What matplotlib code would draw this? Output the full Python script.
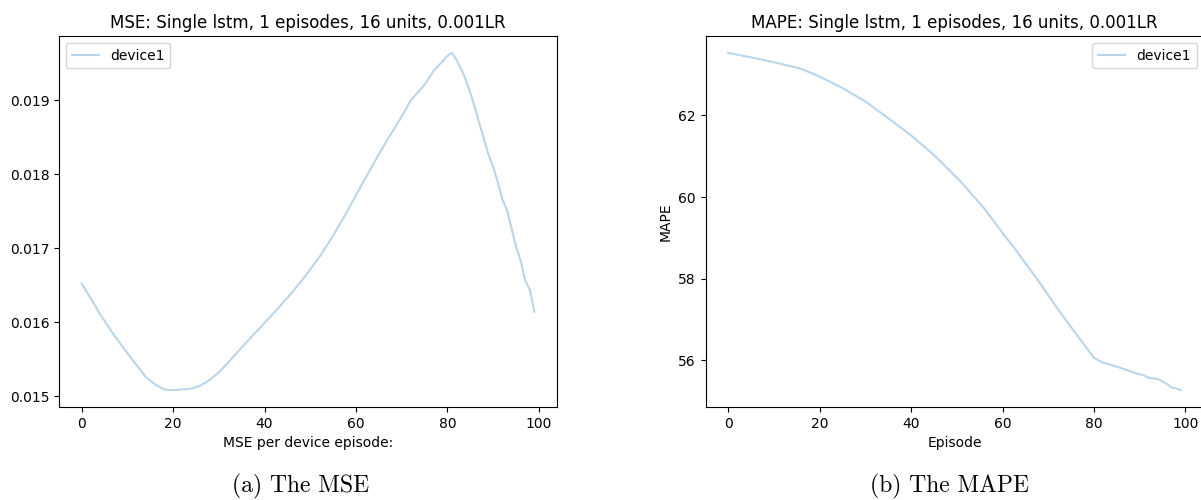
import matplotlib
matplotlib.use("Agg")
import matplotlib.pyplot as plt

# ---------------- data ----------------

mse_episode = [0, 2, 4, 7, 10, 12, 14, 16, 18, 20, 22, 24, 26, 28, 30, 32, 34, 37, 40,
               43, 46, 49, 52, 55, 58, 61, 64, 67, 70, 72, 75, 77, 79, 80, 81, 82, 83,
               84, 85, 86, 87, 88, 89, 90, 91, 92, 93, 94, 95, 96, 97, 98, 99]
mse_values = [0.01652, 0.01632, 0.01611, 0.01583, 0.01558, 0.01542, 0.01526, 0.01516,
              0.01509, 0.01508, 0.01509, 0.01510, 0.01514, 0.01522, 0.01532, 0.01545,
              0.01559, 0.01579, 0.01599, 0.01619, 0.01640, 0.01663, 0.01688, 0.01717,
              0.01749, 0.01783, 0.01816, 0.01848, 0.01878, 0.01900, 0.01921, 0.01940,
              0.01953, 0.01960, 0.01964, 0.01954, 0.01942, 0.01928, 0.01910, 0.01890,
              0.01868, 0.01847, 0.01826, 0.01810, 0.01789, 0.01766, 0.01752, 0.01727,
              0.01702, 0.01683, 0.01656, 0.01644, 0.01614]

mape_episode = [0, 5, 10, 16, 20, 25, 30, 35, 40, 45, 51, 56, 60, 63, 68, 72, 76, 80,
                82, 84, 87, 89, 91, 92, 94, 96, 97, 98, 99]
mape_values = [63.53, 63.42, 63.30, 63.14, 62.95, 62.67, 62.34, 61.93, 61.51, 61.03,
               60.36, 59.72, 59.12, 58.69, 57.92, 57.27, 56.66, 56.06, 55.94, 55.88,
               55.77, 55.69, 55.63, 55.57, 55.54, 55.42, 55.33, 55.31, 55.27]

line_label = "device1"
titles = ["MSE: Single lstm, 1 episodes, 16 units, 0.001LR",
          "MAPE: Single lstm, 1 episodes, 16 units, 0.001LR"]
captions = ["(a) The MSE", "(b) The MAPE"]


# ---------------- figure ----------------

fig = plt.figure(figsize=(12.01, 5.0), dpi=100)

ax1 = fig.add_axes([59 / 1201, 93 / 500, 498 / 1201, 371 / 500])
ax1.plot(mse_episode, mse_values, color="tab:blue", alpha=0.3, label=line_label)
ax1.set_title(titles[0])
ax1.set_xlabel("MSE per device episode:")
ax1.set_xticks([0, 20, 40, 60, 80, 100])
ax1.set_yticks([0.015, 0.016, 0.017, 0.018, 0.019])
ax1.legend(loc="upper left")

ax2 = fig.add_axes([705.5 / 1201, 93 / 500, 498 / 1201, 371 / 500])
ax2.plot(mape_episode, mape_values, color="tab:blue", alpha=0.3, label=line_label)
ax2.set_title(titles[1])
ax2.set_xlabel("Episode")
ax2.set_ylabel("MAPE")
ax2.set_xticks([0, 20, 40, 60, 80, 100])
ax2.set_yticks([56, 58, 60, 62])
ax2.legend(loc="upper right")

# sub-figure captions (LaTeX-ish serif)
fig.text(301 / 1201, 1 - 486 / 500, captions[0], family="cmr10", fontsize=17,
         ha="center", va="center")
fig.text(949 / 1201, 1 - 486 / 500, captions[1], family="cmr10", fontsize=17,
         ha="center", va="center")

fig.savefig("out.png", dpi=100)
